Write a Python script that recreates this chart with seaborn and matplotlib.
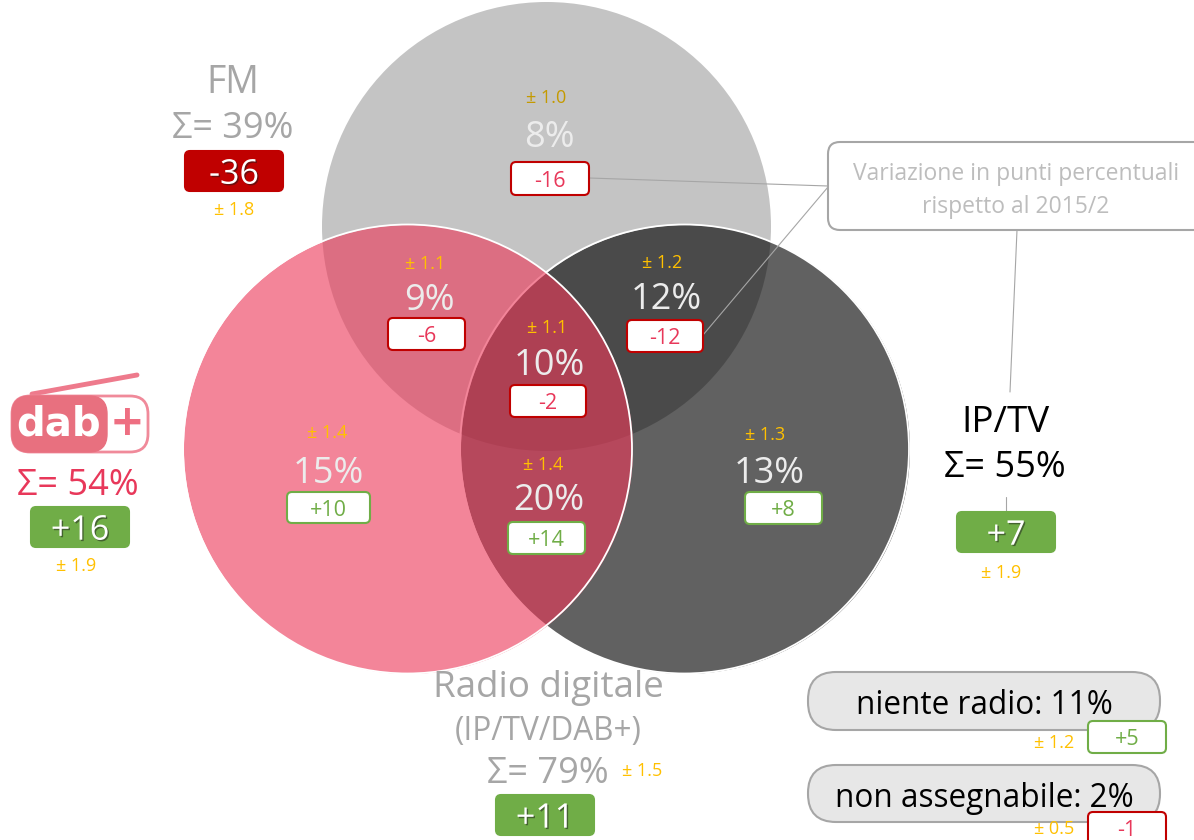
import matplotlib
matplotlib.use("Agg")
import matplotlib.pyplot as plt
import matplotlib.patheffects as pe
from matplotlib.patches import FancyBboxPatch
import seaborn as sns
import pandas as pd

# chart values
set_names = ["FM", "IP/TV", "DAB+"]
region_pct = ["8%", "9%", "12%", "10%", "15%", "20%", "13%"]
region_var = ["-16", "-6", "-12", "-2", "+10", "+14", "+8"]
region_err = ["± 1.0", "± 1.1", "± 1.2", "± 1.1", "± 1.4", "± 1.4", "± 1.3"]

fm_sum, fm_var, fm_err = "Σ= 39%", "-36", "± 1.8"
dab_sum, dab_var, dab_err = "Σ= 54%", "+16", "± 1.9"
ip_sum, ip_var, ip_err = "Σ= 55%", "+7", "± 1.9"
digital_sum, digital_var, digital_err = "Σ= 79%", "+11", "± 1.5"
none_label, none_var, none_err = "niente radio: 11%", "+5", "± 1.2"
unknown_label, unknown_var, unknown_err = "non assegnabile: 2%", "-1", "± 0.5"
note_lines = ["Variazione in punti percentuali", "rispetto al 2015/2"]

# layout, in pixels of the 1194x840 picture
circle_x = [546, 684.5, 407.5]
circle_y = [226, 449, 449]
circle_col = ["#c4c4c4", "#000000", "#ec3a5a"]
circle_alpha = [1.0, 0.62, 0.62]
circle_diam_px = 449

pct_xy = [(549, 135), (429, 298), (666, 297), (549, 363), (328, 471), (549, 498), (769, 471)]
err_xy = [(546, 97), (425, 263), (662, 262), (547, 327), (327, 432), (543, 464), (765, 434)]
box_xy = [(511, 162, 78, 33), (388, 318, 77, 32), (627, 320, 76, 32), (510, 385, 76, 32),
          (287, 492, 83, 31), (508, 522, 77, 32), (745, 492, 77, 32)]

RED, GREEN, ROSE, GOLD, GREY = "#c00000", "#70ad47", "#e8385a", "#ffc000", "#a6a6a6"
ERR_SIZE = 13

sns.set_theme(style="white")
plt.rcParams['font.family'] = ['Open Sans', 'DejaVu Sans']

fig, ax = plt.subplots(figsize=(11.94, 8.4), dpi=100)
fig.subplots_adjust(0, 0, 1, 1)
ax.set_xlim(0, 1194)
ax.set_ylim(840, 0)
ax.axis("off")

df = pd.DataFrame({"name": set_names, "x": circle_x, "y": circle_y})
marker_s = (circle_diam_px * 72 / 100) ** 2
for i in range(3):
    sns.scatterplot(data=df.iloc[[i]], x="x", y="y", s=marker_s, color=circle_col[i],
                    alpha=circle_alpha[i], linewidth=0, ax=ax, legend=False, zorder=1 + 2 * i)
    if i:
        # thin white rim, only shows where the circle lies on another one
        ax.scatter(df.x[i], df.y[i], s=marker_s, facecolors="none", edgecolors="white",
                   linewidths=1.3, zorder=2 + 2 * i)
ax.set_xlim(0, 1194)
ax.set_ylim(840, 0)


def label(x, y, s, size, color, **kw):
    # matplotlib's centre includes the descent, so push the glyphs down with the size
    return ax.text(x, y + size * 0.11, s, fontsize=size, color=color, ha="center", va="center", zorder=10, **kw)


def rbox(x, y, w, h, face, edge, lw=1.5, r=5, z=8):
    p = FancyBboxPatch((x + r, y + r), w - 2 * r, h - 2 * r, boxstyle="round,pad=%d,rounding_size=%d" % (r, r),
                       facecolor=face, edgecolor=edge, linewidth=lw, zorder=z)
    ax.add_patch(p)
    return p


def var_box(x, y, w, h, s):
    col = RED if s.startswith("-") else GREEN
    rbox(x, y, w, h, "white", col)
    label(x + w / 2, y + h / 2 + 1, s, 15.5, ROSE if s.startswith("-") else GREEN)


def total_box(x, y, s):
    col = RED if s.startswith("-") else GREEN
    rbox(x, y, 98, 40, col, col)
    t = label(x + 49, y + 21, s, 24.5, "white")
    t.set_path_effects([pe.withSimplePatchShadow(offset=(1, -1), shadow_rgbFace="k", alpha=0.5)])


# callout lines run behind the boxes
for xs, ys in [((589, 828), (178, 186)), ((703, 828), (335, 187)), ((1017, 1010), (230, 392)), ((1006, 1006), (497, 512))]:
    ax.plot(xs, ys, color=GREY, lw=0.8, zorder=7)

for i in range(len(region_pct)):
    label(*err_xy[i], region_err[i], ERR_SIZE, "#c49a00" if i == 0 else GOLD)
    label(*pct_xy[i], region_pct[i], 26, "#ececec")
    var_box(*box_xy[i], region_var[i])

# FM
label(233, 80, set_names[0], 27, GREY)
label(233, 126, fm_sum, 26, GREY)
total_box(185, 151, fm_var)
label(234, 209, fm_err, ERR_SIZE, GOLD)

# dab+ logo
ax.plot([32, 137], [394, 375], color="#ee7a8c", lw=3.5, solid_capstyle="round", zorder=3)
rbox(12, 396, 136, 56, "white", "#f08a9a", lw=2, r=18)
rbox(12, 396, 95, 56, "#e8707f", "#e8707f", lw=1, r=18, z=9)
ax.text(59, 424, "dab", fontsize=29, color="white", fontweight="bold", ha="center", va="center", zorder=10,
        family=["DejaVu Sans"])
ax.text(127, 423, "+", fontsize=30, color="#ee6f82", fontweight="bold", ha="center", va="center", zorder=10,
        family=["DejaVu Sans"])
label(78, 483, dab_sum, 26, ROSE)
total_box(31, 507, dab_var)
label(76, 565, dab_err, ERR_SIZE, GOLD)

# IP/TV
label(1005, 420, set_names[1], 26.5, "black")
label(1005, 465, ip_sum, 26, "black")
total_box(957, 512, ip_var)
label(1001, 572, ip_err, ERR_SIZE, GOLD)

# note box, runs off the right edge
rbox(828, 142, 400, 88, "white", GREY, lw=1.5, r=12)
label(1016, 172, note_lines[0], 16.5, "#bdbdbd")
label(1016, 205, note_lines[1], 16.5, "#bdbdbd")

# radio digitale
label(548, 685, "Radio digitale", 26.5, GREY)
label(548, 729, "(IP/TV/DAB+)", 22.7, GREY)
label(548, 771, digital_sum, 26, GREY)
label(642, 770, digital_err, ERR_SIZE, GOLD)
total_box(496, 795, digital_var)

# side pills
rbox(808, 672, 352, 58, "#e7e7e7", GREY, lw=1.5, r=28, z=6)
label(984, 703, none_label, 22.7, "black")
label(1054, 742, none_err, ERR_SIZE, GOLD)
var_box(1088, 721, 78, 32, none_var)

rbox(808, 765, 352, 57, "#e7e7e7", GREY, lw=1.5, r=28, z=6)
label(984, 796, unknown_label, 22.7, "black")
label(1054, 828, unknown_err, ERR_SIZE, GOLD)
rbox(1088, 812, 78, 40, "white", RED)
label(1127, 829, unknown_var, 15.5, ROSE)

fig.savefig("out.png", dpi=100)
